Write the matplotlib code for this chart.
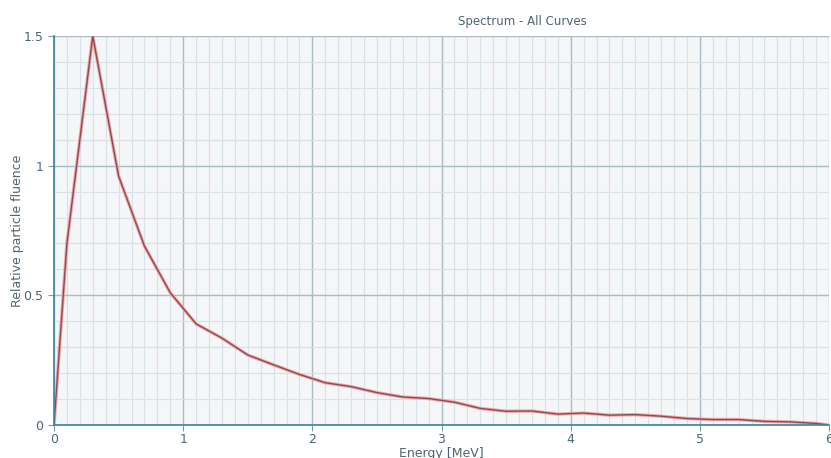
import matplotlib
matplotlib.use("Agg")
import matplotlib.pyplot as plt
from matplotlib.ticker import MultipleLocator, FuncFormatter

# spectrum (bin centres at odd tenths)
energy = [0, 0.1, 0.3, 0.5, 0.7, 0.9, 1.1, 1.3, 1.5, 1.7, 1.9, 2.1, 2.3, 2.5, 2.7, 2.9,
          3.1, 3.3, 3.5, 3.7, 3.9, 4.1, 4.3, 4.5, 4.7, 4.9, 5.1, 5.3, 5.5, 5.7, 5.9, 6.0]
fluence = [0, 0.70, 1.50, 0.96, 0.69, 0.51, 0.39, 0.335, 0.27, 0.232, 0.195, 0.163, 0.148,
           0.125, 0.108, 0.102, 0.088, 0.064, 0.053, 0.054, 0.042, 0.046, 0.038, 0.040,
           0.034, 0.025, 0.021, 0.021, 0.014, 0.012, 0.006, 0.0]

title = "Spectrum - All Curves"
xlabel = "Energy [MeV]"
ylabel = "Relative particle fluence"

txtcol = "#4f6470"
fig = plt.figure(figsize=(8.31, 4.58), dpi=100)
ax = fig.add_axes([54/831, 1-425/458, 775/831, 389/458])
ax.set_facecolor("#f4f6f7")

# halo + dark core, like the jpeg'd original
ax.plot(energy, fluence, color="#f0a8a8", lw=2.4, zorder=3, solid_joinstyle="round")
ax.plot(energy, fluence, color="#8a4a58", lw=1.0, zorder=4)

ax.set_xlim(0, 6)
ax.set_ylim(0, 1.5)
ax.xaxis.set_major_locator(MultipleLocator(1))
ax.xaxis.set_minor_locator(MultipleLocator(0.1))
ax.yaxis.set_major_locator(MultipleLocator(0.5))
ax.yaxis.set_minor_locator(MultipleLocator(0.1))
ax.yaxis.set_major_formatter(FuncFormatter(lambda v, p: "%g" % v))

ax.grid(which="major", color="#a9bcc6", lw=1.0)
ax.grid(which="minor", color="#d6e2e8", lw=0.8)
ax.set_axisbelow(True)

for s in ["top", "right"]:
    ax.spines[s].set_visible(False)
for s in ["left", "bottom"]:
    ax.spines[s].set_color("#3a82a4")
    ax.spines[s].set_linewidth(1.2)
    ax.spines[s].set_zorder(5)

ax.tick_params(which="major", length=4, color="#7f98a6", labelcolor=txtcol, labelsize=9)
ax.tick_params(which="minor", length=0)
ax.tick_params(axis="x", pad=1.5)

ax.set_xlabel(xlabel, color=txtcol, fontsize=9)
ax.set_ylabel(ylabel, color=txtcol, fontsize=9)
ax.xaxis.set_label_coords(0.5, -28/389, transform=ax.transAxes)
ax.yaxis.set_label_coords(-36/775, 0.5, transform=ax.transAxes)
ax.xaxis.label.set_va("center")
ax.yaxis.label.set_va("center")
fig.text(522/831, 1-22/458, title, color=txtcol, fontsize=8.5, ha="center", va="center")

fig.savefig("out.png", dpi=100, facecolor="white")
